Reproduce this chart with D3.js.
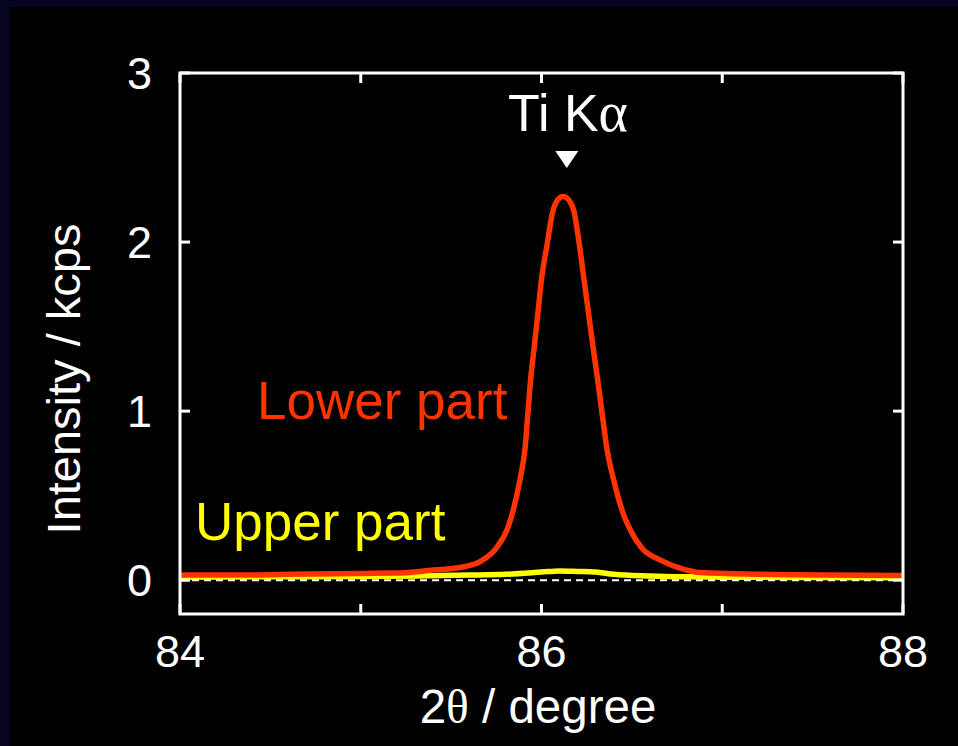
<!DOCTYPE html>
<html>
<head>
<meta charset="utf-8">
<script src="https://cdn.jsdelivr.net/npm/d3@7"></script>
<style>
  html, body { margin: 0; padding: 0; background: #000; }
  svg { display: block; }
</style>
</head>
<body>
<div id="chart"></div>
<script>
// 2theta positions (degree) and intensities (kcps)
const lowerX = [84.0, 84.3, 84.6, 85.0, 85.2, 85.4, 85.55, 85.66, 85.75, 85.81, 85.84, 85.88, 85.91, 85.925,
  85.94, 85.96, 85.98, 86.0, 86.03, 86.06, 86.09, 86.12, 86.15, 86.18, 86.21, 86.235, 86.26, 86.285, 86.31,
  86.335, 86.36, 86.4, 86.45, 86.49, 86.555, 86.655, 86.77, 86.88, 87.2, 87.6, 88.0];
const lowerY = [0.03, 0.03, 0.035, 0.04, 0.042, 0.06, 0.075, 0.11, 0.19, 0.3, 0.4, 0.59, 0.79, 0.99,
  1.19, 1.38, 1.58, 1.78, 1.98, 2.17, 2.25, 2.27, 2.25, 2.18, 1.98, 1.78, 1.58, 1.38, 1.19,
  0.99, 0.79, 0.59, 0.4, 0.3, 0.19, 0.12, 0.07, 0.045, 0.035, 0.03, 0.028];

const upperX = [84.0, 84.5, 85.0, 85.3, 85.6, 85.8, 86.0, 86.1, 86.2, 86.3, 86.4, 86.6, 86.8, 87.0, 87.5, 88.0];
const upperY = [0.018, 0.02, 0.022, 0.025, 0.03, 0.035, 0.048, 0.055, 0.052, 0.048, 0.035, 0.025, 0.02, 0.018, 0.016, 0.015];

const xTicks = [84, 85, 86, 87, 88];
const xTickLabels = [84, 86, 88];
const yTicks = [0, 1, 2, 3];

const width = 958;
const height = 746;
const margin = { top: 73, right: 55, bottom: 132, left: 180 };

const svg = d3
  .select("#chart")
  .append("svg")
  .attr("width", width)
  .attr("height", height);

// slide background: navy edge on top/left, black elsewhere
svg.append("rect").attr("width", width).attr("height", height).attr("fill", "#05051f");
svg.append("rect").attr("x", 9).attr("y", 7).attr("width", width - 9).attr("height", height - 7).attr("fill", "#000");

const x = d3.scaleLinear().domain([84, 88]).range([margin.left, width - margin.right]);
const y = d3.scaleLinear().domain([-0.2, 3]).range([height - margin.bottom, margin.top]);

const font = "'Liberation Sans', Arial, sans-serif";
const serif = "'Liberation Serif', 'Times New Roman', serif";

// traces
const line = d3
  .line()
  .x((d) => x(d[0]))
  .y((d) => y(d[1]))
  .curve(d3.curveMonotoneX);

const upper = upperX.map((v, i) => [v, upperY[i]]);
const lower = lowerX.map((v, i) => [v, lowerY[i]]);

svg.append("path")
  .attr("d", line(upper))
  .attr("fill", "none")
  .attr("stroke", "#ffff00")
  .attr("stroke-width", 5.5)
  .attr("stroke-linejoin", "round");

svg.append("line")
  .attr("x1", x(84)).attr("x2", x(88))
  .attr("y1", y(0)).attr("y2", y(0))
  .attr("stroke", "#fff")
  .attr("stroke-width", 2)
  .attr("stroke-dasharray", "7,5");

svg.append("path")
  .attr("d", line(lower))
  .attr("fill", "none")
  .attr("stroke", "#ff3300")
  .attr("stroke-width", 5.5)
  .attr("stroke-linejoin", "round");

// frame + inward ticks on all sides
const tickLen = 10;
const g = svg.append("g").attr("stroke", "#fff").attr("stroke-width", 3);

xTicks.forEach((t) => {
  g.append("line").attr("x1", x(t)).attr("x2", x(t)).attr("y1", y(-0.2)).attr("y2", y(-0.2) - tickLen);
  g.append("line").attr("x1", x(t)).attr("x2", x(t)).attr("y1", y(3)).attr("y2", y(3) + tickLen);
});
yTicks.forEach((t) => {
  g.append("line").attr("x1", x(84)).attr("x2", x(84) + tickLen).attr("y1", y(t)).attr("y2", y(t));
  g.append("line").attr("x1", x(88)).attr("x2", x(88) - tickLen).attr("y1", y(t)).attr("y2", y(t));
});

g.append("rect")
  .attr("x", x(84))
  .attr("y", y(3))
  .attr("width", x(88) - x(84))
  .attr("height", y(-0.2) - y(3))
  .attr("fill", "none");

// tick labels
svg.selectAll(".xlab")
  .data(xTickLabels)
  .enter()
  .append("text")
  .attr("x", (d) => x(d))
  .attr("y", 667)
  .attr("text-anchor", "middle")
  .style("font-family", font)
  .style("font-size", "45px")
  .style("fill", "#fff")
  .text((d) => d);

svg.selectAll(".ylab")
  .data(yTicks)
  .enter()
  .append("text")
  .attr("x", 152)
  .attr("y", (d) => y(d) + 16)
  .attr("text-anchor", "end")
  .style("font-family", font)
  .style("font-size", "45px")
  .style("fill", "#fff")
  .text((d) => d);

// axis titles
const xt = svg.append("text")
  .attr("x", 538)
  .attr("y", 723)
  .attr("text-anchor", "middle")
  .style("font-family", font)
  .style("font-size", "47.5px")
  .style("fill", "#fff");
xt.append("tspan").text("2");
xt.append("tspan").style("font-family", serif).text("θ");
xt.append("tspan").text(" / degree");

svg.append("text")
  .attr("transform", "translate(80,379) rotate(-90)")
  .attr("text-anchor", "middle")
  .style("font-family", font)
  .style("font-size", "47px")
  .style("fill", "#fff")
  .text("Intensity / kcps");

// peak marker
const pk = svg.append("text")
  .attr("x", 568)
  .attr("y", 131)
  .attr("text-anchor", "middle")
  .style("font-family", font)
  .style("font-size", "52px")
  .style("fill", "#fff");
pk.append("tspan").text("Ti K");
pk.append("tspan").style("font-family", serif).style("font-size", "56px").text("α");

const tx = x(86.14);
svg.append("path")
  .attr("d", `M${tx - 11.5},151 L${tx + 11.5},151 L${tx},168 Z`)
  .attr("fill", "#fff");

// series labels
svg.append("text")
  .attr("x", 257)
  .attr("y", 419)
  .style("font-family", font)
  .style("font-size", "53px")
  .style("fill", "#ff3300")
  .text("Lower part");

svg.append("text")
  .attr("x", 195)
  .attr("y", 540)
  .style("font-family", font)
  .style("font-size", "53px")
  .style("fill", "#ffff00")
  .text("Upper part");
</script>
</body>
</html>
